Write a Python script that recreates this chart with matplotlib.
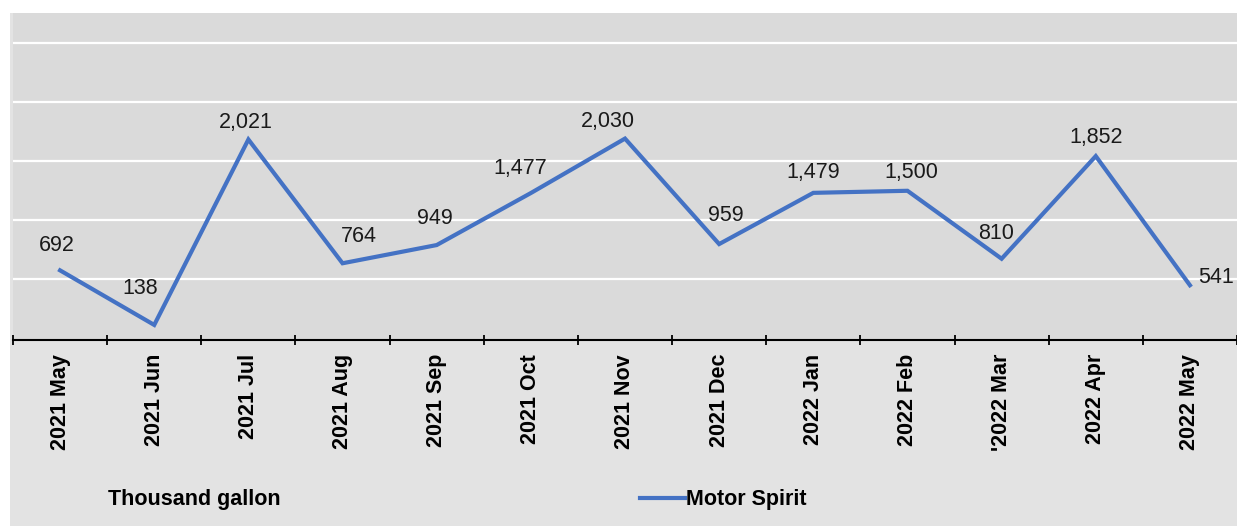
import matplotlib
matplotlib.use("Agg")
import matplotlib.pyplot as plt
from matplotlib.patches import Rectangle

# Data
months = ["2021 May", "2021 Jun", "2021 Jul", "2021 Aug", "2021 Sep", "2021 Oct",
          "2021 Nov", "2021 Dec", "2022 Jan", "2022 Feb", "'2022 Mar", "2022 Apr", "2022 May"]
motor_spirit = [692, 138, 2021, 764, 949, 1477, 2030, 959, 1479, 1500, 810, 1852, 541]
series_name = "Motor Spirit"
unit_label = "Thousand gallon"

# label offsets in pixels (dx, dy) relative to each point
label_offsets = [(-3, 25), (-14, 36), (-3, 17), (16, 27), (-2, 27), (-11, 25), (-17, 17),
                 (7, 29), (0, 20), (4, 18), (-6, 25), (0, 19), (26, 8)]

W, H = 1237, 526
fig = plt.figure(figsize=(W / 100, H / 100), dpi=100, facecolor="white")
fig.patches.append(Rectangle((10 / W, 0), 1 - 10 / W, 1 - 13 / H, transform=fig.transFigure,
                             facecolor="#e3e3e3", edgecolor="none", zorder=-10))

ax = fig.add_axes([13 / W, 1 - 340 / H, 1 - 13 / W, (340 - 13) / H])
ax.set_facecolor("#dadada")

x = list(range(len(months)))
ax.plot(x, motor_spirit, color="#4472C4", linewidth=3, solid_joinstyle="miter",
        label=series_name, zorder=3)

for xi, v, (dx, dy) in zip(x, motor_spirit, label_offsets):
    ax.annotate(f"{v:,}", (xi, v), xytext=(dx, dy), textcoords="offset pixels",
                ha="center", va="center", fontsize=15.5, color="#1a1a1a",
                family="Liberation Sans", zorder=4)

ax.set_xlim(-0.5, len(months) - 0.5)
ax.set_ylim(-15, 3305)

for g in [600, 1200, 1800, 2400, 3000]:
    ax.axhline(g, color="white", linewidth=1.6, zorder=1)

ax.set_yticks([])
ax.set_xticks(x)
ax.set_xticklabels(months, rotation=90, fontsize=15.5, fontweight="bold",
                   family="Liberation Sans")
ax.tick_params(axis="x", which="major", length=0, pad=10)
ax.set_xticks([i - 0.5 for i in range(len(months) + 1)], minor=True)
ax.tick_params(axis="x", which="minor", direction="inout", length=7, width=1.3, color="black")

for s in ["top", "left", "right"]:
    ax.spines[s].set_visible(False)
ax.spines["bottom"].set_linewidth(1.5)
ax.spines["bottom"].set_color("black")

fig.text(108 / W, 1 - 500 / H, unit_label, fontsize=15.5, fontweight="bold",
         family="Liberation Sans", ha="left", va="center")

leg = fig.legend(loc="center left", bbox_to_anchor=(640 / W, 1 - 500 / H),
                 frameon=False, borderpad=0, borderaxespad=0, handlelength=2.1,
                 handletextpad=0.05, prop={"family": "Liberation Sans", "weight": "bold",
                                           "size": 15.5})

fig.savefig("out.png", dpi=100, facecolor=fig.get_facecolor())
